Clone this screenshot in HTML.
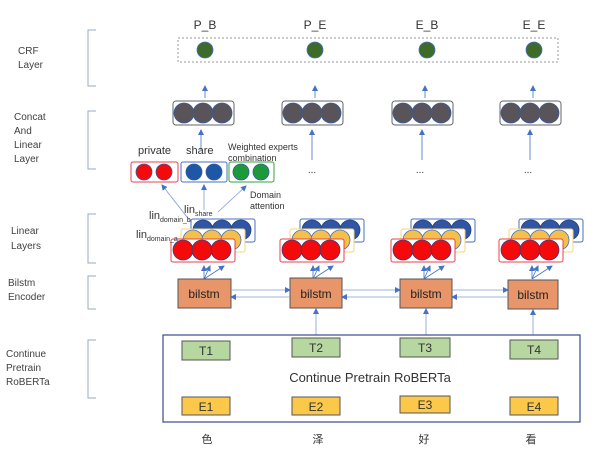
<!DOCTYPE html>
<html><head><meta charset="utf-8"><style>
html,body{margin:0;padding:0;background:#fff;}
svg{display:block;font-family:"Liberation Sans","Noto Sans CJK SC",sans-serif;}
</style></head><body>
<svg width="600" height="460" viewBox="0 0 600 460" xmlns="http://www.w3.org/2000/svg">
<defs>
<marker id="a" markerWidth="6" markerHeight="6" refX="5" refY="3" orient="auto" markerUnits="userSpaceOnUse"><path d="M0,0 L6,3 L0,6 z" fill="#4472c4"/></marker>
</defs>
<g fill="#404040" font-size="10">
<text x="18" y="54">CRF</text><text x="18" y="68">Layer</text>
<text x="14" y="120">Concat</text><text x="14" y="134">And</text><text x="14" y="148">Linear</text><text x="14" y="162">Layer</text>
<text x="11" y="234">Linear</text><text x="11" y="249">Layers</text>
<text x="8" y="286">Bilstm</text><text x="8" y="300">Encoder</text>
<text x="6" y="357">Continue</text><text x="6" y="371">Pretrain</text><text x="6" y="385">RoBERTa</text>
</g>
<g fill="none" stroke="#9aa8c0" stroke-width="1">
<path d="M96,30 H88 V86 H96"/><path d="M96,111 H88 V169 H96"/><path d="M96,214 H88 V263 H96"/><path d="M96,276 H88 V309 H96"/><path d="M96,340 H88 V398 H96"/>
</g>
<!-- CRF -->
<rect x="178" y="38" width="380" height="24" fill="none" stroke="#999" stroke-dasharray="2,2"/>
<g fill="#3f6b2a" stroke="#4472c4" stroke-width="0.8">
<circle cx="205" cy="50" r="8"/><circle cx="315" cy="50" r="8"/><circle cx="427" cy="50" r="8"/><circle cx="534" cy="50" r="8"/>
</g>
<g font-size="12" fill="#333" text-anchor="middle">
<text x="205" y="29">P_B</text><text x="315" y="29">P_E</text><text x="427" y="29">E_B</text><text x="534" y="29">E_E</text>
</g>
<g stroke="#4472c4" stroke-width="0.8" marker-end="url(#a)">
<line x1="205" y1="98" x2="205" y2="86"/><line x1="315" y1="98" x2="315" y2="86"/><line x1="425" y1="98" x2="425" y2="86"/><line x1="533" y1="98" x2="533" y2="86"/>
<line x1="312" y1="160" x2="312" y2="130"/><line x1="422" y1="160" x2="422" y2="130"/><line x1="530" y1="160" x2="530" y2="130"/>
<line x1="201" y1="150" x2="201" y2="130"/>
</g>
<!-- concat grey -->
<g id="cg">
<rect x="173" y="101" width="61" height="24" rx="3" fill="#fff" stroke="#666"/>
<g fill="#595459" stroke="#3a5a9c" stroke-width="0.8"><circle cx="184" cy="113" r="10"/><circle cx="203" cy="113" r="10"/><circle cx="222" cy="113" r="10"/></g>
</g>
<use href="#cg" x="109"/><use href="#cg" x="219"/><use href="#cg" x="327"/>
<g font-size="10" fill="#333" text-anchor="middle"><text x="312" y="173">...</text><text x="420" y="173">...</text><text x="528" y="173">...</text></g>
<!-- private/share/weighted -->
<g font-size="11" fill="#333"><text x="138" y="154">private</text><text x="186" y="154">share</text></g>
<g font-size="9" fill="#333"><text x="228" y="150">Weighted experts</text><text x="228" y="161">combination</text><text x="250" y="198">Domain</text><text x="250" y="209">attention</text></g>
<rect x="131" y="162" width="47" height="20" rx="2" fill="#fff" stroke="#e8404a"/>
<rect x="181" y="162" width="46" height="20" rx="2" fill="#fff" stroke="#4472c4"/>
<rect x="229" y="162" width="45" height="20" rx="2" fill="#fff" stroke="#3aa03a"/>
<g stroke="#3a5a9c" stroke-width="0.8"><circle cx="144" cy="172" r="8" fill="#f40a0a"/><circle cx="164" cy="172" r="8" fill="#f40a0a"/>
<circle cx="194" cy="172" r="8" fill="#1f57a8"/><circle cx="214" cy="172" r="8" fill="#1f57a8"/>
<circle cx="241" cy="172" r="8" fill="#1c9a3a"/><circle cx="261" cy="172" r="8" fill="#1c9a3a"/></g>
<g stroke="#7f9ccf" stroke-width="0.8" marker-end="url(#a)">
<line x1="205" y1="240" x2="162" y2="185"/><line x1="204" y1="210" x2="204" y2="185"/><line x1="218" y1="212" x2="246" y2="186"/>
</g>
<!-- linear groups -->
<g id="lg">
<rect x="191" y="219" width="64" height="23" rx="2" fill="#fff" stroke="#4472c4"/>
<g fill="#2f55a4" stroke="#223f80" stroke-width="0.8"><circle cx="203" cy="230" r="10"/><circle cx="222" cy="230" r="10"/><circle cx="241" cy="230" r="10"/></g>
<rect x="181" y="229" width="64" height="23" rx="2" fill="#fff" stroke="#f5d47a"/>
<g fill="#f5c04a" stroke="#4472c4" stroke-width="0.8"><circle cx="193" cy="240" r="10"/><circle cx="212" cy="240" r="10"/><circle cx="231" cy="240" r="10"/></g>
<rect x="171" y="239" width="64" height="23" rx="2" fill="#fff" stroke="#e8404a"/>
<g fill="#f40a0a" stroke="#3a3a7a" stroke-width="0.8"><circle cx="183" cy="250" r="10"/><circle cx="202" cy="250" r="10"/><circle cx="221" cy="250" r="10"/></g>
<g stroke="#4472c4" stroke-width="0.8" marker-end="url(#a)"><line x1="204" y1="279" x2="204" y2="266"/><line x1="204" y1="279" x2="210" y2="266"/><line x1="204" y1="279" x2="224" y2="266"/></g>
</g>
<use href="#lg" x="109"/><use href="#lg" x="220"/><use href="#lg" x="328"/>
<g font-size="11" fill="#333"><text x="149" y="219">lin<tspan font-size="7" dy="3">domain_b</tspan></text>
<text x="136" y="238">lin<tspan font-size="7" dy="3">domain_a</tspan></text>
<text x="184" y="213">lin<tspan font-size="7" dy="3">share</tspan></text></g>
<!-- bilstm -->
<g fill="#e8956a" stroke="#555" stroke-width="1">
<rect x="178" y="279" width="53" height="29"/><rect x="290" y="278" width="52" height="30"/><rect x="400" y="279" width="52" height="29"/><rect x="508" y="280" width="50" height="29"/>
</g>
<g font-size="12" fill="#222" text-anchor="middle"><text x="204" y="298">bilstm</text><text x="316" y="298">bilstm</text><text x="426" y="298">bilstm</text><text x="533" y="299">bilstm</text></g>
<g stroke="#7f9ccf" stroke-width="0.8" marker-end="url(#a)">
<line x1="231" y1="290" x2="290" y2="290"/><line x1="290" y1="297" x2="231" y2="297"/>
<line x1="342" y1="290" x2="400" y2="290"/><line x1="400" y1="297" x2="342" y2="297"/>
<line x1="452" y1="290" x2="508" y2="290"/><line x1="508" y1="297" x2="452" y2="297"/>
<line x1="316" y1="338" x2="316" y2="309"/><line x1="426" y1="338" x2="426" y2="309"/><line x1="533" y1="340" x2="533" y2="310"/>
</g>
<!-- roberta -->
<rect x="163" y="335" width="417" height="87" fill="#fff" stroke="#3a4a8c" stroke-width="1.2"/>
<g stroke="#555" stroke-width="1"><rect x="182" y="341" width="48" height="19" fill="#b6d7a0"/><rect x="292" y="338" width="48" height="19" fill="#b6d7a0"/><rect x="400" y="338" width="50" height="19" fill="#b6d7a0"/><rect x="510" y="340" width="48" height="19" fill="#b6d7a0"/>
<rect x="182" y="397" width="48" height="18" fill="#fcc84a"/><rect x="292" y="397" width="48" height="18" fill="#fcc84a"/><rect x="400" y="396" width="50" height="17" fill="#fcc84a"/><rect x="510" y="397" width="48" height="18" fill="#fcc84a"/></g>
<g font-size="12" fill="#333" text-anchor="middle">
<text x="206" y="355">T1</text><text x="316" y="352">T2</text><text x="425" y="352">T3</text><text x="534" y="354">T4</text>
<text x="206" y="411">E1</text><text x="316" y="411">E2</text><text x="425" y="409">E3</text><text x="534" y="411">E4</text>
<text x="370" y="382" font-size="13">Continue Pretrain RoBERTa</text>
<text x="207" y="443" font-size="11">色</text><text x="318" y="443" font-size="11">泽</text><text x="424" y="443" font-size="11">好</text><text x="531" y="443" font-size="11">看</text>
</g>
</svg>
</body></html>
